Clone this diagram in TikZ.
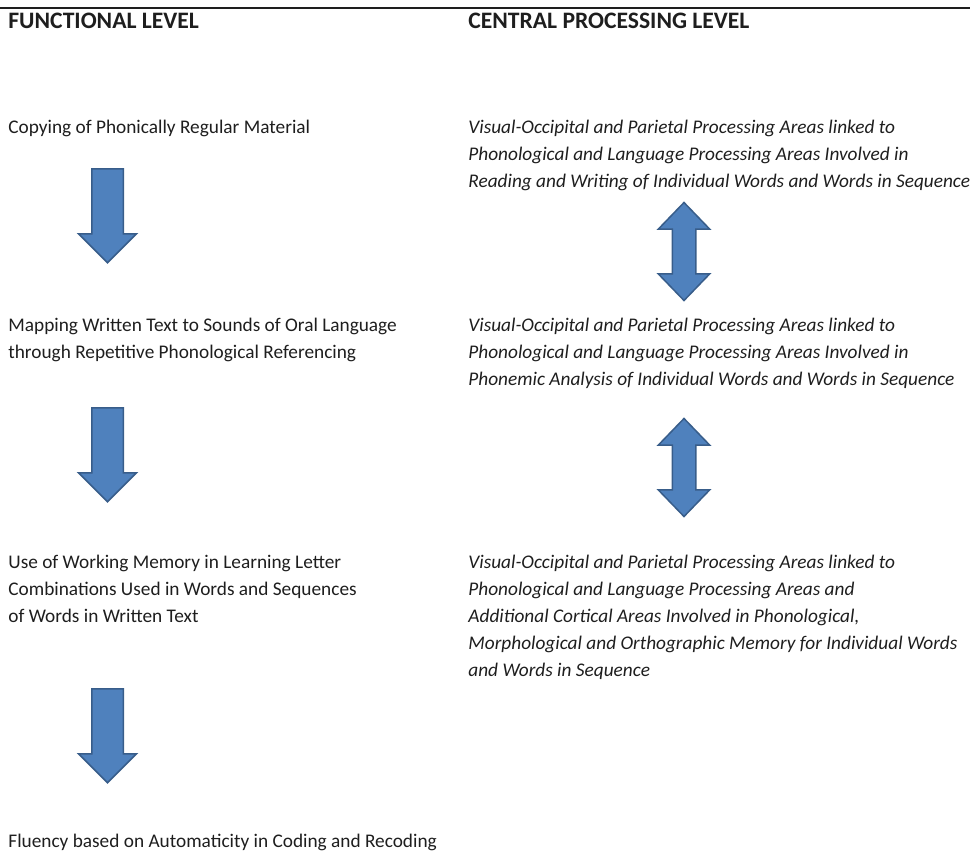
\documentclass[tikz,border=0pt]{standalone}
\usepackage{fontspec}
\setmainfont{Carlito}
\usetikzlibrary{shapes.arrows, positioning}
\definecolor{ablue}{HTML}{4F81BD}
\definecolor{aedge}{HTML}{385D8A}
\definecolor{ink}{HTML}{1E1E1E}
\tikzset{
  every picture/.style={x=0.5pt, y=-0.5pt},
  level/.style={font=\fontsize{11.8pt}{14pt}\selectfont\bfseries, text=ink, inner sep=0pt, anchor=base west},
  % multi-line nodes sit on the baseline of their last line
  func/.style={font=\fontsize{9.65pt}{13.5pt}\selectfont, text=ink, inner sep=0pt, anchor=base west, align=left},
  proc/.style={func, font=\fontsize{9.65pt}{13.5pt}\selectfont\itshape},
  downarrow/.style={single arrow, draw=aedge, fill=ablue, line width=0.75pt, rotate=-90,
    anchor=tail, inner xsep=0pt, inner ysep=7.5pt, single arrow head extend=6.6pt,
    single arrow tip angle=90, minimum height=47pt},
  twoway/.style={double arrow, draw=aedge, fill=ablue, line width=0.75pt, rotate=-90,
    inner xsep=0pt, inner ysep=5.5pt, double arrow head extend=7pt,
    double arrow tip angle=88, minimum height=49pt},
}

\begin{document}
\begin{tikzpicture}
  \useasboundingbox (0,0) rectangle (974,858);
  \draw[ink, line width=0.75pt] (0,8) -- (970,8);
  \node[level] (hf) at (8,28) {FUNCTIONAL LEVEL};
  \node[level] (hc) at (468,28) {CENTRAL PROCESSING LEVEL};
  % functional steps
  \node[func] (f1) at (8,133) {Copying of Phonically Regular Material};
  \node[func] (f2) at (8,358) {Mapping Written Text to Sounds of Oral Language\\through Repetitive Phonological Referencing};
  \node[func] (f3) at (8,622) {Use of Working Memory in Learning Letter\\Combinations Used in Words and Sequences\\of Words in Written Text};
  \node[func] (f4) at (8,847) {Fluency based on Automaticity in Coding and Recoding};
  % processing areas
  \node[proc] (c1) at (468,187) {Visual-Occipital and Parietal Processing Areas linked to\\Phonological and Language Processing Areas Involved in\\Reading and Writing of Individual Words and Words in Sequence};
  \node[proc] (c2) at (468,385) {Visual-Occipital and Parietal Processing Areas linked to\\Phonological and Language Processing Areas Involved in\\Phonemic Analysis of Individual Words and Words in Sequence};
  \node[proc] (c3) at (468,676) {Visual-Occipital and Parietal Processing Areas linked to\\Phonological and Language Processing Areas and\\Additional Cortical Areas Involved in Phonological,\\Morphological and Orthographic Memory for Individual Words\\and Words in Sequence};
  % block arrows
  \node[downarrow] (a1) at (107.5,168) {};
  \node[downarrow] (a2) at (107.5,407) {};
  \node[downarrow] (a3) at (107.5,688) {};
  \node[twoway] (d1) at (684,251.5) {};
  \node[twoway] (d2) at (684,467.5) {};
\end{tikzpicture}
\end{document}
